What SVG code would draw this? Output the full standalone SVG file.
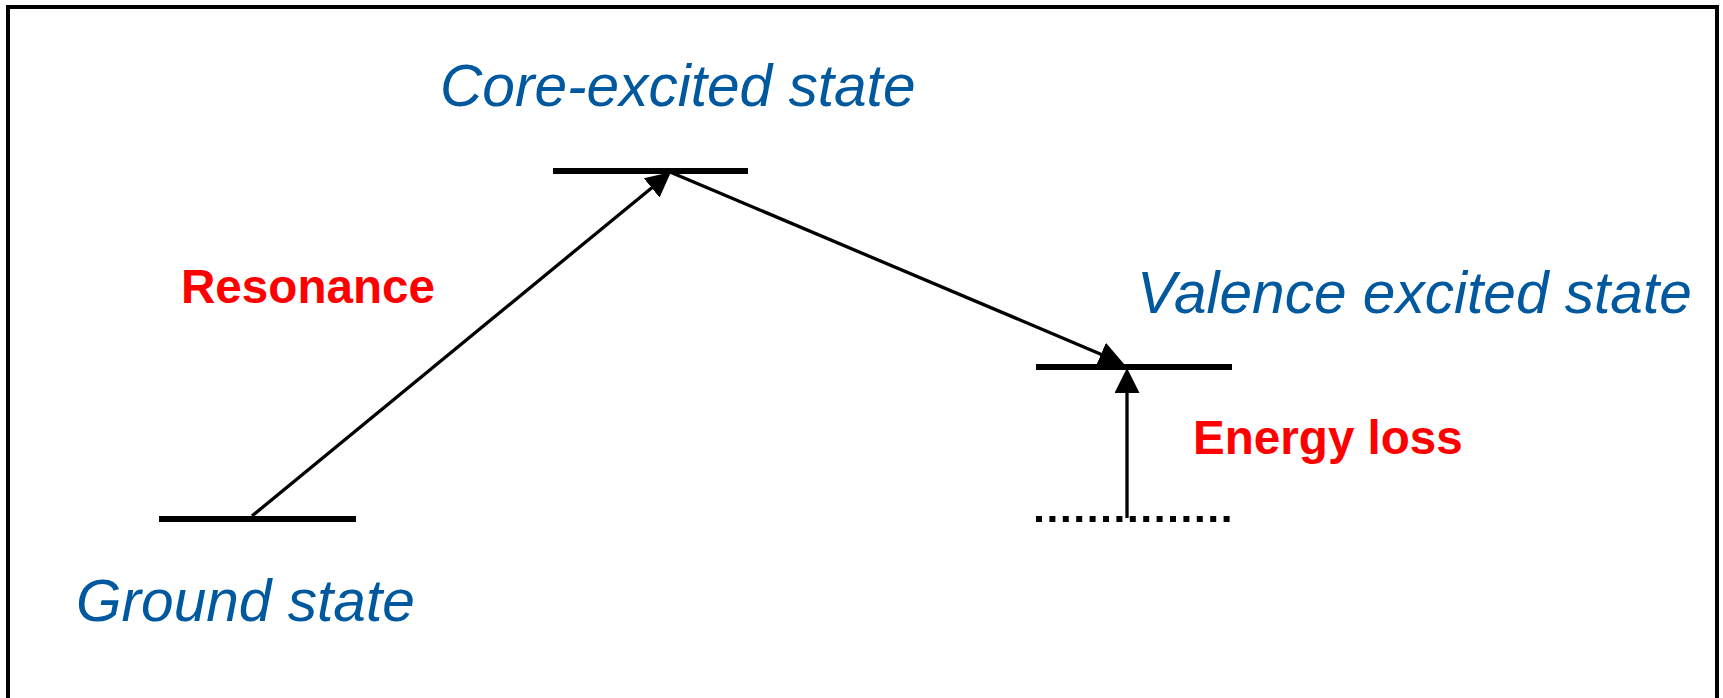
<svg xmlns="http://www.w3.org/2000/svg" width="1723" height="698" viewBox="0 0 1723 698">
<style>
.state{font-family:"Liberation Sans",Arial,sans-serif;font-style:italic;font-size:58.6px;fill:#00589E}
.lab{font-family:"Liberation Sans",Arial,sans-serif;font-weight:bold;font-size:47.6px;fill:#FF0000}
.level{stroke:#000;stroke-width:6;fill:none}
.conn{stroke:#000;stroke-width:3.3;fill:none;marker-end:url(#ah)}
</style>
<defs>
<marker id="ah" markerUnits="userSpaceOnUse" markerWidth="25" markerHeight="25" refX="5" refY="12.5" orient="auto" viewBox="0 0 25 25">
<path d="M0,0 L25,12.5 L0,25 z" fill="#000"/>
</marker>
</defs>
<rect x="0" y="0" width="1723" height="698" fill="#fff"/>
<rect x="8" y="7" width="1709" height="720" fill="none" stroke="#000" stroke-width="4"/>
<g id="ground">
<line class="level" x1="159" y1="519" x2="356" y2="519"/>
<text class="state" x="76" y="621">Ground state</text>
</g>
<g id="core">
<line class="level" x1="553" y1="171" x2="748" y2="171"/>
<text class="state" x="440" y="106">Core-excited state</text>
</g>
<g id="valence">
<line class="level" x1="1036" y1="367" x2="1232" y2="367"/>
<text class="state" x="1137" y="313">Valence excited state</text>
</g>
<g id="virtual">
<line class="level" x1="1036" y1="519" x2="1232" y2="519" stroke-dasharray="6 7.4"/>
</g>
<g id="connectors">
<line class="conn" x1="252" y1="516" x2="655.5" y2="184.7"/>
<line class="conn" x1="670" y1="172" x2="1105.6" y2="356.2"/>
<line class="conn" x1="1127" y1="518" x2="1127" y2="388" stroke-width="3.8"/>
<text class="lab" x="181" y="303">Resonance</text>
<text class="lab" x="1193" y="454" font-size="48.4">Energy loss</text>
</g>
</svg>
